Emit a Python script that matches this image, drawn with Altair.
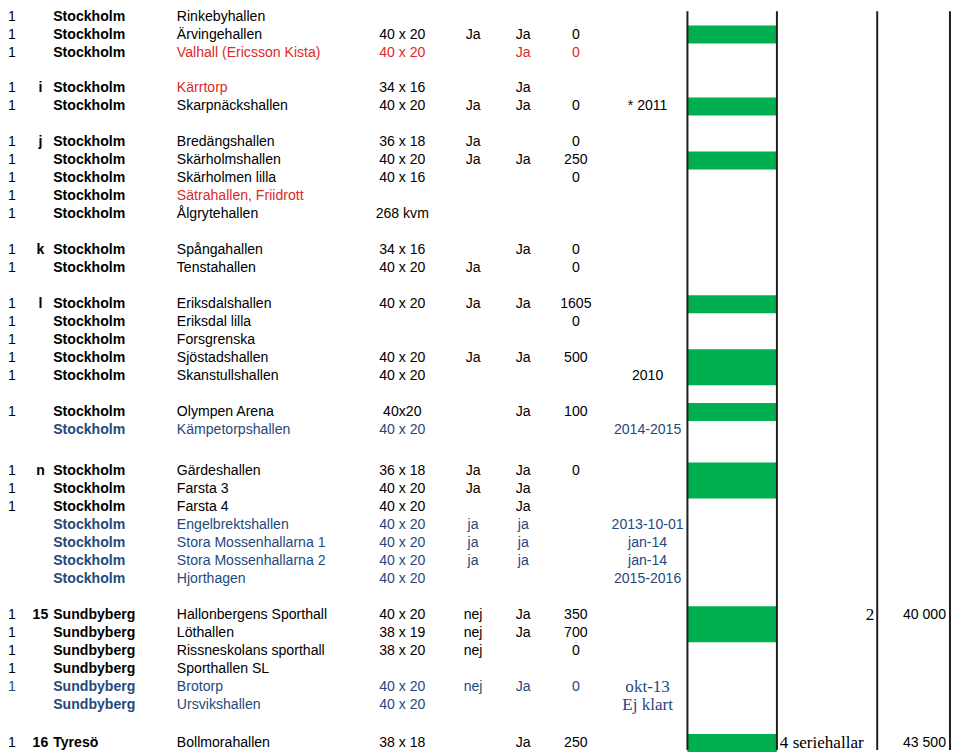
import altair as alt
import pandas as pd

# ---------------- data (one entry per non-blank table row) ----------------
group = [0, 0, 0, 1, 1, 2, 2, 2, 2, 2, 3, 3, 4, 4, 4, 4, 4, 5, 5,
         6, 6, 6, 6, 6, 6, 6, 7, 7, 7, 7, 7, 7, 8]

col_one = ["1"] * 18 + [""] + ["1", "1", "1"] + ["", "", "", ""] + ["1"] * 5 + [""] + ["1"]

col_code = ["", "", "", "i", "", "j", "", "", "", "", "k", "", "l", "", "", "", "", "", "",
            "n", "", "", "", "", "", "", "15", "", "", "", "", "", "16"]

col_city = ["Stockholm"] * 26 + ["Sundbyberg"] * 6 + ["Tyresö"]

col_hall = ["Rinkebyhallen", "Ärvingehallen", "Valhall (Ericsson Kista)", "Kärrtorp",
            "Skarpnäckshallen", "Bredängshallen", "Skärholmshallen", "Skärholmen lilla",
            "Sätrahallen, Friidrott", "Ålgrytehallen", "Spångahallen", "Tenstahallen",
            "Eriksdalshallen", "Eriksdal lilla", "Forsgrenska", "Sjöstadshallen",
            "Skanstullshallen", "Olympen Arena", "Kämpetorpshallen", "Gärdeshallen",
            "Farsta 3", "Farsta 4", "Engelbrektshallen", "Stora Mossenhallarna 1",
            "Stora Mossenhallarna 2", "Hjorthagen", "Hallonbergens Sporthall", "Löthallen",
            "Rissneskolans sporthall", "Sporthallen SL", "Brotorp", "Ursvikshallen",
            "Bollmorahallen"]

col_size = ["", "40 x 20", "40 x 20", "34 x 16", "40 x 20", "36 x 18", "40 x 20", "40 x 16",
            "", "268 kvm", "34 x 16", "40 x 20", "40 x 20", "", "", "40 x 20", "40 x 20",
            "40x20", "40 x 20", "36 x 18", "40 x 20", "40 x 20", "40 x 20", "40 x 20",
            "40 x 20", "40 x 20", "40 x 20", "38 x 19", "38 x 20", "", "40 x 20", "40 x 20",
            "38 x 18"]

col_f = ["", "Ja", "", "", "Ja", "Ja", "Ja", "", "", "", "", "Ja", "Ja", "", "", "Ja", "",
         "", "", "Ja", "Ja", "", "ja", "ja", "ja", "", "nej", "nej", "nej", "", "nej", "", ""]

col_g = ["", "Ja", "Ja", "Ja", "Ja", "", "Ja", "", "", "", "Ja", "", "Ja", "", "", "Ja", "",
         "Ja", "", "Ja", "Ja", "Ja", "ja", "ja", "ja", "", "Ja", "Ja", "", "", "Ja", "", "Ja"]

col_h = ["", "0", "0", "", "0", "0", "250", "0", "", "", "0", "0", "1605", "0", "", "500", "",
         "100", "", "0", "", "", "", "", "", "", "350", "700", "0", "", "0", "", "250"]

col_note = ["", "", "", "", "* 2011", "", "", "", "", "", "", "", "", "", "", "", "2010",
            "", "2014-2015", "", "", "", "2013-10-01", "jan-14", "jan-14", "2015-2016",
            "", "", "", "", "okt-13", "Ej klart", ""]

col_count = [""] * 26 + ["2"] + [""] * 5 + ["4 seriehallar"]
col_cost = [""] * 26 + ["40 000"] + [""] * 5 + ["43 500"]

green = [0, 1, 0, 0, 1, 0, 1, 0, 0, 0, 0, 0, 1, 0, 0, 1, 1, 1, 0,
         1, 1, 0, 0, 0, 0, 0, 1, 1, 0, 0, 0, 0, 1]

tone = ["k", "k", "r", "rn", "k", "k", "k", "k", "rn", "k", "k", "k", "k", "k", "k", "k", "k",
        "k", "b", "k", "k", "k", "b", "b", "b", "b", "k", "k", "k", "k", "b", "b", "k"]

# ---------------- layout ----------------
group_gap = [1.0, 1.0, 1.0, 1.0, 1.0, 1.3, 1.0, 1.1]  # blank separator heights (row units)
serif_note_rows = {30, 31}

pos = []
u = 0.0
for i, g in enumerate(group):
    if i > 0:
        u += 1.0
        if g != group[i - 1]:
            u += group_gap[group[i - 1]]
    pos.append(u)

W, H = 952, 747
ROW_PX = 18.13
Y0 = 5.5
y_scale = alt.Scale(domain=[-Y0 / ROW_PX, (H - Y0) / ROW_PX], reverse=True, nice=False, zero=False)


def px(ref):
    return (ref - 1) * 0.9916


RED, BLUE, BLACK = "#DC2A2A", "#1F497D", "#000000"
color_scale = alt.Scale(domain=["k", "r", "b"], range=[BLACK, RED, BLUE])


def cell_tone(i, colname):
    t = tone[i]
    if t == "b":
        return "b"
    if t == "r" and colname in ("hall", "size", "f", "g", "h", "note"):
        return "r"
    if t == "rn" and colname == "hall":
        return "r"
    return "k"


def col_df(values, colname, rows=None):
    recs = []
    for i, v in enumerate(values):
        if v == "" or (rows is not None and i not in rows):
            continue
        recs.append({"u": pos[i], "t": v, "tone": cell_tone(i, colname)})
    return pd.DataFrame(recs)


def text_layer(df, x, align, font="Liberation Sans", size=14.2, weight="normal"):
    return alt.Chart(df).mark_text(
        align=align, baseline="middle", font=font, fontSize=size, fontWeight=weight
    ).encode(
        x=alt.value(x),
        y=alt.Y("u:Q", scale=y_scale, axis=None),
        text="t:N",
        color=alt.Color("tone:N", scale=color_scale, legend=None),
    )


# green bars: merge consecutive green rows into one block
runs = []
for i in range(len(green)):
    if not green[i]:
        continue
    if runs and i > 0 and green[i - 1] and abs(pos[i] - pos[i - 1] - 1.0) < 1e-9:
        runs[-1]["u1"] = pos[i] + 0.5
    else:
        runs.append({"u0": pos[i] - 0.5, "u1": pos[i] + 0.5})
bar_df = pd.DataFrame(runs)
bars = alt.Chart(bar_df).mark_rect(color="#00B050").encode(
    x=alt.value(px(692)),
    x2=alt.value(px(783)),
    y=alt.Y("u0:Q", scale=y_scale, axis=None),
    y2="u1:Q",
)

lines_df = pd.DataFrame({"x": [px(692), px(783), px(885), px(959)]})
lines = alt.Chart(lines_df).mark_rule(color="#1e1e1e", strokeWidth=2).encode(
    x=alt.X("x:Q", scale=None),
    y=alt.value(0),
    y2=alt.value(745),
)

all_rows = set(range(len(group)))
sans_note_rows = all_rows - serif_note_rows

layers = [
    bars,
    text_layer(col_df(col_one, "one"), px(1), "left"),
    text_layer(col_df(col_code, "code"), px(34), "center", weight="bold"),
    text_layer(col_df(col_city, "city"), px(47), "left", weight="bold"),
    text_layer(col_df(col_hall, "hall"), px(172.7), "left"),
    text_layer(col_df(col_size, "size"), px(402), "center"),
    text_layer(col_df(col_f, "f"), px(474), "center"),
    text_layer(col_df(col_g, "g"), px(525), "center"),
    text_layer(col_df(col_h, "h"), px(578.5), "center"),
    text_layer(col_df(col_note, "note", sans_note_rows), px(651.5), "center"),
    text_layer(col_df(col_note, "note", serif_note_rows), px(651.5), "center",
               font="Liberation Serif", size=17.2),
    text_layer(col_df(col_count, "count", {26}), px(882), "right",
               font="Liberation Serif", size=17.2),
    text_layer(col_df(col_count, "count", {32}), px(786), "left",
               font="Liberation Serif", size=17.2),
    text_layer(col_df(col_cost, "cost"), px(955), "right"),
    lines,
]

chart = alt.layer(*layers).properties(
    width=W, height=H, autosize=alt.AutoSizeParams(type="none"), padding=0
).configure_view(stroke=None).resolve_scale(color="shared")

chart.save("out.html", embed_options={"renderer": "svg", "actions": False})
